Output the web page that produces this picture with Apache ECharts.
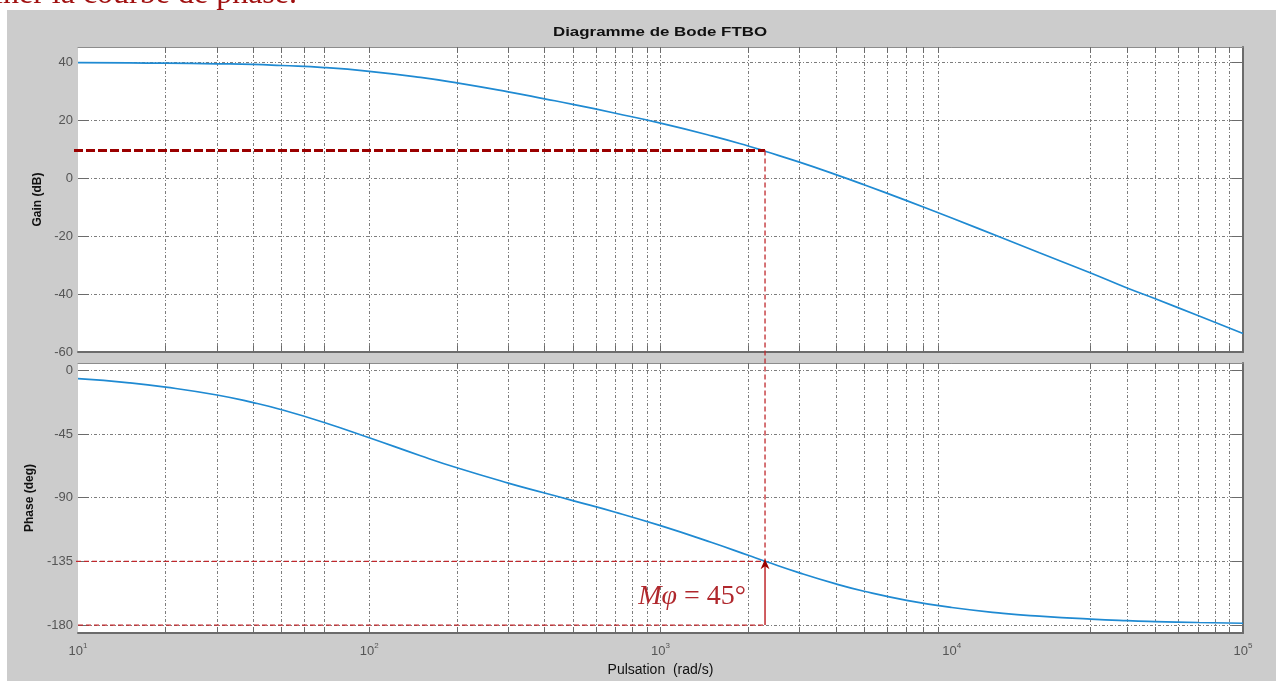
<!DOCTYPE html>
<html>
<head>
<meta charset="utf-8">
<script src="https://cdn.jsdelivr.net/npm/echarts@6/dist/echarts.min.js"></script>
<style>
  html, body { margin: 0; padding: 0; background: #fff; }
  #chart { width: 1276px; height: 681px; }
</style>
</head>
<body>
<div id="chart"></div>
<script>
// pulsation (rad/s) and the open-loop response
const freq = [10, 15, 20, 30, 40, 50, 70, 100, 150, 200, 300, 400, 500, 700, 1000,
  1500, 2000, 2300, 3000, 4000, 5000, 7000, 10000, 15000, 20000, 30000, 40000, 50000, 70000, 100000]
const gainDb = [40.0, 39.9, 39.8, 39.6, 39.4, 39.0, 38.3, 37.0, 34.9, 33.0, 29.9, 27.5, 25.6, 22.5, 19.1,
  14.7, 11.2, 9.3, 5.6, 1.3, -2.2, -7.7, -13.7, -20.7, -25.7, -32.7, -37.9, -41.6, -47.4, -53.6]
const phaseDeg = [-6.0, -8.9, -11.9, -17.5, -22.9, -27.9, -36.9, -47.7, -60.4, -68.9, -79.7, -86.7, -92.1, -100.3, -109.8,
  -121.7, -130.7, -135.1, -143.1, -150.9, -156.1, -162.5, -167.6, -171.7, -173.7, -175.8, -176.9, -177.5, -178.2, -178.7]

// grid / tick positions visible on the x axis
const freqGrid = [20, 30, 40, 50, 60, 70, 100, 200, 300, 400, 500, 600, 700, 800, 900, 1000,
  2000, 3000, 4000, 5000, 6000, 7000, 8000, 9000, 30000, 40000, 50000, 60000, 70000, 80000, 90000]
const freqLabels = [10, 100, 1000, 10000, 100000]
const gainTicks = [-60, -40, -20, 0, 20, 40]
const phaseTicks = [-180, -135, -90, -45, 0]

// phase margin construction
const wc = 2285
const gainAtWc = 9.6
const phaseAtWc = -135
const phaseFloor = -180
const marginLabel = '45°'

const AXIS = '#6b6b6b'
const GRIDC = '#7d7d7d'
const RED = '#c0282d'
const DARKRED = '#9b0000'
const BLUE = '#1f8ad2'
const SANS = 'Liberation Sans, Arial, sans-serif'

const labelFont = { color: '#555', fontSize: 13, fontFamily: SANS }

const chart = echarts.init(document.getElementById('chart'))

const grids = [
  { left: 78, top: 47, width: 1165, height: 305, yMin: -60, yMax: 45.4, ticks: gainTicks, name: 'Gain (dB)', nameGap: 29 },
  { left: 78, top: 363, width: 1165, height: 270, yMin: -185.6, yMax: 5.1, ticks: phaseTicks, name: 'Phase (deg)', nameGap: 41 }
]

const xAxes = []
const yAxes = []
grids.forEach((g, i) => {
  xAxes.push({
    type: 'log', logBase: 10, gridIndex: i, min: 10, max: 100000, position: 'bottom',
    axisLine: { show: true, onZero: false, lineStyle: { color: AXIS, width: 2 } },
    axisTick: { show: true, inside: true, length: 6, customValues: freqGrid, lineStyle: { color: AXIS } },
    splitLine: { show: true, lineStyle: { color: GRIDC, width: 1, type: [3, 2, 1, 2] } },
    axisLabel: i === 1 ? {
      show: true, customValues: freqLabels, margin: 9,
      formatter: v => '{b|10}{s|' + Math.round(Math.log10(v)) + '}',
      rich: {
        b: { ...labelFont },
        s: { ...labelFont, fontSize: 8, padding: [0, 0, 10, 0] }
      }
    } : { show: false },
    name: i === 1 ? 'Pulsation  (rad/s)' : '',
    nameLocation: 'middle', nameGap: 30,
    nameTextStyle: { color: '#111', fontSize: 14, fontFamily: SANS }
  })
  xAxes.push({
    type: 'log', logBase: 10, gridIndex: i, min: 10, max: 100000, position: 'top',
    axisLine: { show: true, onZero: false, lineStyle: { color: '#8c8c8c', width: 1 } },
    axisTick: { show: true, inside: true, length: 6, customValues: freqGrid, lineStyle: { color: AXIS } },
    splitLine: { show: false },
    axisLabel: { show: false }
  })
  yAxes.push({
    type: 'value', gridIndex: i, min: g.yMin, max: g.yMax, position: 'left',
    axisLine: { show: false, onZero: false },
    axisTick: { show: true, inside: true, length: 11, customValues: g.ticks, lineStyle: { color: AXIS } },
    axisLabel: { show: true, customValues: g.ticks, margin: 5, ...labelFont },
    splitLine: { show: false },
    name: g.name, nameLocation: 'middle', nameGap: g.nameGap, nameRotate: 90,
    nameTextStyle: { color: '#111', fontSize: 12, fontWeight: 'bold', fontFamily: SANS }
  })
  yAxes.push({
    type: 'value', gridIndex: i, min: g.yMin, max: g.yMax, position: 'right',
    axisLine: { show: true, onZero: false, lineStyle: { color: AXIS, width: 2 } },
    axisTick: { show: true, inside: true, length: 11, customValues: g.ticks, lineStyle: { color: AXIS } },
    axisLabel: { show: false },
    splitLine: { show: true, lineStyle: { color: GRIDC, width: 1, type: [3, 2, 1, 2] } }
  })
})

chart.setOption({
  backgroundColor: '#fff',
  animation: false,
  grid: grids.map(g => ({
    left: g.left, top: g.top, width: g.width, height: g.height,
    show: true, backgroundColor: '#fff', borderWidth: 0
  })),
  xAxis: xAxes,
  yAxis: yAxes,
  series: [
    {
      type: 'line', xAxisIndex: 0, yAxisIndex: 0, symbol: 'none', smooth: true, z: 5,
      data: freq.map((f, k) => [f, gainDb[k]]),
      lineStyle: { color: BLUE, width: 1.7 }
    },
    {
      type: 'line', xAxisIndex: 2, yAxisIndex: 2, symbol: 'none', smooth: true, z: 5,
      data: freq.map((f, k) => [f, phaseDeg[k]]),
      lineStyle: { color: BLUE, width: 1.7 }
    }
  ]
})

// phase-margin construction, placed through the axes' own scales
const px = (s, x, y) => chart.convertToPixel({ seriesIndex: s }, [x, y])
const gWc = px(0, wc, gainAtWc)
const gLeft = px(0, 10, gainAtWc)
const pWc = px(1, wc, phaseAtWc)
const pLeft = px(1, 10, phaseAtWc)
const fWc = px(1, wc, phaseFloor)
const fLeft = px(1, 10, phaseFloor)
const tPos = px(1, wc, -160)

chart.setOption({
  graphic: [
    { type: 'rect', z: -100, silent: true, shape: { x: 7, y: 10, width: 1269, height: 671 }, style: { fill: '#cccccc' } },
    {
      type: 'text', z: -50, silent: true, x: 297, y: 11,
      style: { text: 'déterminer la courbe de phase.', align: 'right', verticalAlign: 'bottom', fill: '#a01010', font: '32px "Liberation Serif", serif' }
    },
    {
      type: 'text', z: 30, silent: true, x: 660, y: 32, scaleX: 1.3,
      style: { text: 'Diagramme de Bode FTBO', align: 'center', verticalAlign: 'middle', fill: '#111', font: 'bold 13px ' + SANS }
    },
    {
      type: 'line', z: 20, silent: true,
      shape: { x1: gLeft[0] - 4, y1: gWc[1], x2: gWc[0], y2: gWc[1] },
      style: { stroke: DARKRED, lineWidth: 3, lineDash: [9, 3] }
    },
    {
      type: 'line', z: 20, silent: true,
      shape: { x1: gWc[0], y1: gWc[1], x2: pWc[0], y2: pWc[1] },
      style: { stroke: RED, lineWidth: 1.3, lineDash: [5, 3] }
    },
    {
      type: 'line', z: 20, silent: true,
      shape: { x1: pLeft[0] - 2, y1: pWc[1], x2: pWc[0], y2: pWc[1] },
      style: { stroke: RED, lineWidth: 1.3, lineDash: [5, 3] }
    },
    {
      type: 'line', z: 20, silent: true,
      shape: { x1: fLeft[0], y1: fWc[1], x2: fWc[0], y2: fWc[1] },
      style: { stroke: RED, lineWidth: 1.3, lineDash: [5, 3] }
    },
    {
      type: 'line', z: 20, silent: true,
      shape: { x1: fWc[0], y1: fWc[1], x2: pWc[0], y2: pWc[1] + 4 },
      style: { stroke: RED, lineWidth: 1.5 }
    },
    {
      type: 'polygon', z: 21, silent: true,
      shape: { points: [[pWc[0], pWc[1] - 2], [pWc[0] - 4.5, pWc[1] + 8], [pWc[0], pWc[1] + 5], [pWc[0] + 4.5, pWc[1] + 8]] },
      style: { fill: DARKRED }
    },
    {
      type: 'text', z: 21, silent: true, x: tPos[0] - 19, y: tPos[1],
      style: {
        text: '{i|Mφ}{n| = ' + marginLabel + '}', align: 'right', verticalAlign: 'middle',
        rich: {
          i: { fontSize: 28, fontStyle: 'italic', fontFamily: 'Liberation Serif, serif', fill: '#b0282d' },
          n: { fontSize: 28, fontFamily: 'Liberation Serif, serif', fill: '#b0282d' }
        }
      }
    }
  ]
})
</script>
</body>
</html>
